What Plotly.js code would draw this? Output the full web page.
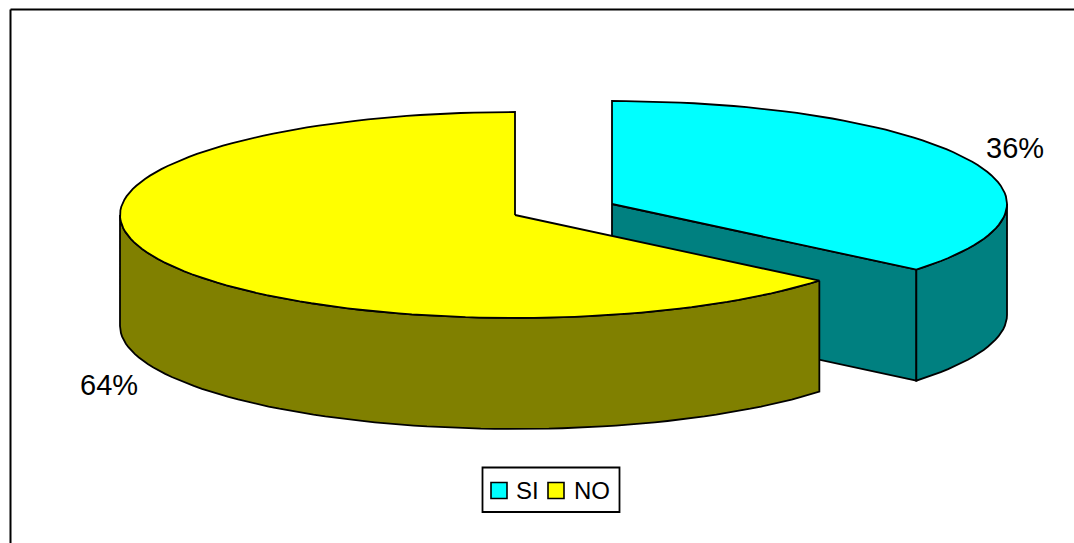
<!DOCTYPE html>
<html>
<head>
<meta charset="utf-8">
<script src="https://cdn.plot.ly/plotly-3.0.1.min.js"></script>
<style>html,body{margin:0;padding:0;background:#fff}#chart{width:1074px;height:543px}</style>
</head>
<body>
<div id="chart"></div>
<script>
// Survey answers
const categories = ["SI", "NO"];
const shares = [36, 64];
const topColors = ["#00FFFF", "#FFFF00"];
const sideColors = ["#008080", "#808000"];

// Disc geometry on a 1074x543 plot area, y growing downward
const radiusX = 395, radiusY = 103, depth = 111;
const centres = [[612, 204], [515, 215]];
const labelSpots = [[1015, 148], [109, 385]];
const outline = {color: "#000", width: 1.8};
const fontFamily = "Liberation Sans, Arial, sans-serif";

// Key box and its entries
const keyBox = {x0: 482.5, x1: 619.5, y0: 467.5, y1: 512};
const keySwatchX = [491, 548];
const keySwatchSize = 16;
const keyTextX = [516, 574];
const keyMidY = 490;

const total = shares.reduce((a, b) => a + b, 0);

// Point on the rim, angle in degrees clockwise from twelve o'clock
function rim(c, deg, drop) {
  const t = deg * Math.PI / 180;
  return [c[0] + radiusX * Math.sin(t), c[1] - radiusY * Math.cos(t) + (drop || 0)];
}
function arc(c, from, to, drop) {
  const n = Math.max(2, Math.ceil(Math.abs(to - from) / 2));
  const pts = [];
  for (let i = 0; i <= n; i++) pts.push(rim(c, from + (to - from) * i / n, drop));
  return pts;
}
function poly(pts, color, name) {
  return {
    x: pts.map(p => p[0]), y: pts.map(p => p[1]), name: name,
    type: "scatter", mode: "lines", fill: "toself", fillcolor: color,
    line: outline, hoverinfo: "skip", showlegend: false
  };
}

const traces = [];
let start = 0;
categories.forEach((name, i) => {
  const end = start + shares[i] / total * 360;
  const c = centres[i];
  const down = [c[0], c[1] + depth];

  // Flat cut wall, seen only where the slice's leading edge faces the viewer
  if (i === 0) {
    traces.push(poly([c, rim(c, end), rim(c, end, depth), down, c], sideColors[i], name));
  }
  // Curved wall: the front half of the rim only
  const wallFrom = Math.max(start, 90), wallTo = Math.min(end, 270);
  const upper = arc(c, wallFrom, wallTo, 0);
  const lower = arc(c, wallTo, wallFrom, depth);
  traces.push(poly(upper.concat(lower, [upper[0]]), sideColors[i], name));
  // Top face
  traces.push(poly([c].concat(arc(c, start, end, 0), [c]), topColors[i], name));
  start = end;
});

const annotations = shares.map((v, i) => ({
  x: labelSpots[i][0], y: labelSpots[i][1], xref: "x", yref: "y",
  text: Math.round(v / total * 100) + "%", showarrow: false,
  font: {family: fontFamily, size: 29, color: "#000"}
})).concat(categories.map((name, i) => ({
  x: keyTextX[i], y: keyMidY, xref: "x", yref: "y", xanchor: "left", xshift: -2,
  text: name, showarrow: false,
  font: {family: fontFamily, size: 24, color: "#000"}
})));

const shapes = [
  // Chart frame: top and left edges
  {type: "line", x0: 10.5, x1: 1074, y0: 9.5, y1: 9.5, line: {color: "#000", width: 2}},
  {type: "line", x0: 10.5, x1: 10.5, y0: 9.5, y1: 543, line: {color: "#000", width: 2}},
  // Key box
  {type: "rect", x0: keyBox.x0, x1: keyBox.x1, y0: keyBox.y0, y1: keyBox.y1,
   fillcolor: "#fff", line: {color: "#000", width: 1.8}}
].concat(categories.map((name, i) => ({
  type: "rect", x0: keySwatchX[i], x1: keySwatchX[i] + keySwatchSize,
  y0: keyMidY - keySwatchSize / 2 + 0.5, y1: keyMidY + keySwatchSize / 2 + 0.5,
  fillcolor: topColors[i], line: {color: "#000", width: 1.6}
})));

const layout = {
  width: 1074, height: 543,
  margin: {l: 0, r: 0, t: 0, b: 0},
  paper_bgcolor: "#fff", plot_bgcolor: "#fff",
  xaxis: {range: [0, 1074], visible: false, fixedrange: true},
  yaxis: {range: [543, 0], visible: false, fixedrange: true},
  annotations: annotations,
  shapes: shapes,
  showlegend: false
};

Plotly.newPlot("chart", traces, layout, {displayModeBar: false, staticPlot: true});
</script>
</body>
</html>
